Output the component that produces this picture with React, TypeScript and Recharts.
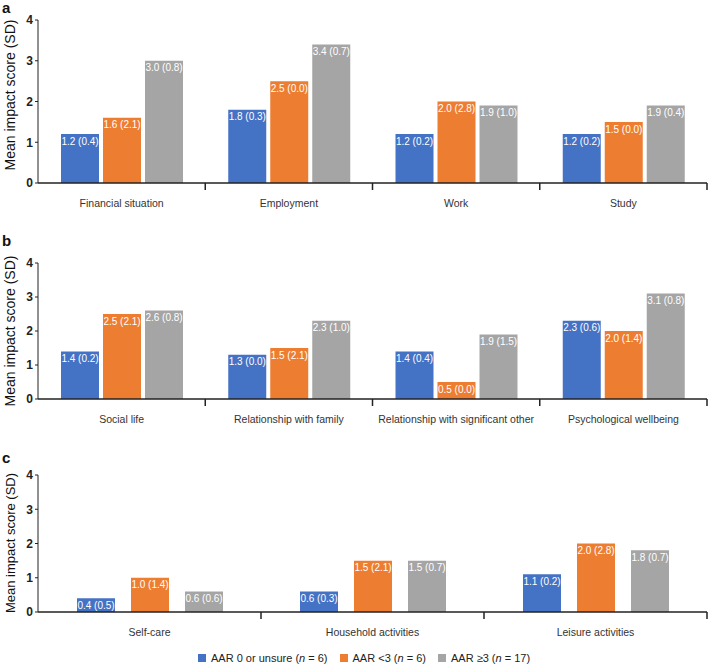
import { BarChart, Bar, XAxis, YAxis, LabelList } from 'recharts';

const categoriesA = ['Financial situation', 'Employment', 'Work', 'Study'];
const categoriesB = ['Social life', 'Relationship with family', 'Relationship with significant other', 'Psychological wellbeing'];
const categoriesC = ['Self-care', 'Household activities', 'Leisure activities'];

const seriesNames = ['AAR 0 or unsure', 'AAR <3', 'AAR \u22653'];
const seriesN = [6, 6, 17];
const colors = ['#4472C4', '#ED7D31', '#A5A5A5'];

// panel a
const meanA0 = [1.2, 1.8, 1.2, 1.2];
const sdA0 = [0.4, 0.3, 0.2, 0.2];
const meanA1 = [1.6, 2.5, 2.0, 1.5];
const sdA1 = [2.1, 0.0, 2.8, 0.0];
const meanA2 = [3.0, 3.4, 1.9, 1.9];
const sdA2 = [0.8, 0.7, 1.0, 0.4];

// panel b
const meanB0 = [1.4, 1.3, 1.4, 2.3];
const sdB0 = [0.2, 0.0, 0.4, 0.6];
const meanB1 = [2.5, 1.5, 0.5, 2.0];
const sdB1 = [2.1, 2.1, 0.0, 1.4];
const meanB2 = [2.6, 2.3, 1.9, 3.1];
const sdB2 = [0.8, 1.0, 1.5, 0.8];

// panel c
const meanC0 = [0.4, 0.6, 1.1];
const sdC0 = [0.5, 0.3, 0.2];
const meanC1 = [1.0, 1.5, 2.0];
const sdC1 = [1.4, 2.1, 2.8];
const meanC2 = [0.6, 1.5, 1.8];
const sdC2 = [0.6, 0.7, 0.7];

const yTicks = [0, 1, 2, 3, 4];

const FONT = '"Liberation Sans", Arial, sans-serif';
const AXIS = '#222';

function buildRows(cats: string[], means: number[][], sds: number[][]) {
  return cats.map((name, i) => {
    const row: any = { name };
    means.forEach((m, s) => {
      row['m' + s] = m[i];
      row['l' + s] = `${m[i].toFixed(1)} (${sds[s][i].toFixed(1)})`;
    });
    return row;
  });
}

const dataA = buildRows(categoriesA, [meanA0, meanA1, meanA2], [sdA0, sdA1, sdA2]);
const dataB = buildRows(categoriesB, [meanB0, meanB1, meanB2], [sdB0, sdB1, sdB2]);
const dataC = buildRows(categoriesC, [meanC0, meanC1, meanC2], [sdC0, sdC1, sdC2]);

const ValueLabel = (props: any) => {
  const { x, y, width, value } = props;
  return (
    <text
      x={x + width / 2}
      y={y + 8}
      textAnchor="middle"
      dominantBaseline="middle"
      fill="#fff"
      fontSize={10}
      fontFamily={FONT}
    >
      {value}
    </text>
  );
};

const makeTick = (band: number) => (props: any) => {
  const { x, y, payload } = props;
  return (
    <g>
      <line x1={x + band / 2} x2={x + band / 2} y1={y} y2={y + 7} stroke={AXIS} strokeWidth={1.5} />
      <text x={x} y={y + 21} textAnchor="middle" dominantBaseline="middle" fontSize={10.5} fill="#333" fontFamily={FONT}>
        {payload.value}
      </text>
    </g>
  );
};

const PLOT_W = 669;

function Panel({ data, top, height, marginTop, marginBottom, barGap }: any) {
  const band = PLOT_W / data.length;
  return (
    <div style={{ position: 'absolute', left: 0, top, width: 710, height }}>
      <BarChart
        width={710}
        height={height}
        data={data}
        margin={{ top: marginTop, right: 3, left: 0, bottom: marginBottom }}
        barGap={barGap}
        barSize={38}
      >
        <XAxis
          dataKey="name"
          height={30}
          axisLine={{ stroke: AXIS, strokeWidth: 1.5 }}
          tickLine={false}
          tickSize={0}
          tickMargin={0}
          interval={0}
          tick={makeTick(band)}
        />
        <YAxis
          width={38}
          domain={[0, 4]}
          ticks={yTicks}
          interval={0}
          axisLine={{ stroke: AXIS, strokeWidth: 1 }}
          tickLine={{ stroke: AXIS }}
          tickSize={3}
          tick={{ fontSize: 12, fontWeight: 'bold', fill: AXIS, fontFamily: FONT }}
        />
        {[0, 1, 2].map((s) => (
          <Bar key={s} dataKey={'m' + s} fill={colors[s]} isAnimationActive={false}>
            <LabelList dataKey={'l' + s} content={ValueLabel} />
          </Bar>
        ))}
      </BarChart>
    </div>
  );
}

const letterStyle: any = {
  position: 'absolute',
  left: 2,
  fontFamily: FONT,
  fontWeight: 'bold',
  fontSize: 15,
  lineHeight: '15px',
  color: '#111',
};

const yLabelStyle = (cy: number, size: number): any => ({
  position: 'absolute',
  left: 10,
  top: cy,
  transform: 'translate(-50%, -50%) rotate(-90deg)',
  whiteSpace: 'nowrap',
  fontFamily: FONT,
  fontSize: size,
  color: '#111',
});

export default function App() {
  return (
    <div style={{ position: 'absolute', left: 0, top: 0, width: 710, height: 667, background: '#fff', fontFamily: FONT }}>
      <Panel data={dataA} top={0} height={215} marginTop={20} marginBottom={2} barGap={4} />
      <Panel data={dataB} top={215} height={215} marginTop={48} marginBottom={1} barGap={4} />
      <Panel data={dataC} top={430} height={215} marginTop={45} marginBottom={3} barGap={16} />

      <div style={{ ...letterStyle, top: 0 }}>a</div>
      <div style={{ ...letterStyle, top: 233 }}>b</div>
      <div style={{ ...letterStyle, top: 450 }}>c</div>

      <div style={yLabelStyle(95, 14)}>Mean impact score (SD)</div>
      <div style={yLabelStyle(331, 14)}>Mean impact score (SD)</div>
      <div style={yLabelStyle(543, 13)}>Mean impact score (SD)</div>

      <div
        style={{
          position: 'absolute',
          top: 652,
          left: 198,
          display: 'flex',
          alignItems: 'center',
          fontSize: 11,
          color: '#222',
          whiteSpace: 'nowrap',
        }}
      >
        {seriesNames.map((name, i) => (
          <div key={name} style={{ display: 'flex', alignItems: 'center', marginRight: 12 }}>
            <span style={{ width: 8, height: 8, background: colors[i], display: 'inline-block', marginRight: 5 }} />
            <span>
              {name} (<i>n</i> = {seriesN[i]})
            </span>
          </div>
        ))}
      </div>
    </div>
  );
}
